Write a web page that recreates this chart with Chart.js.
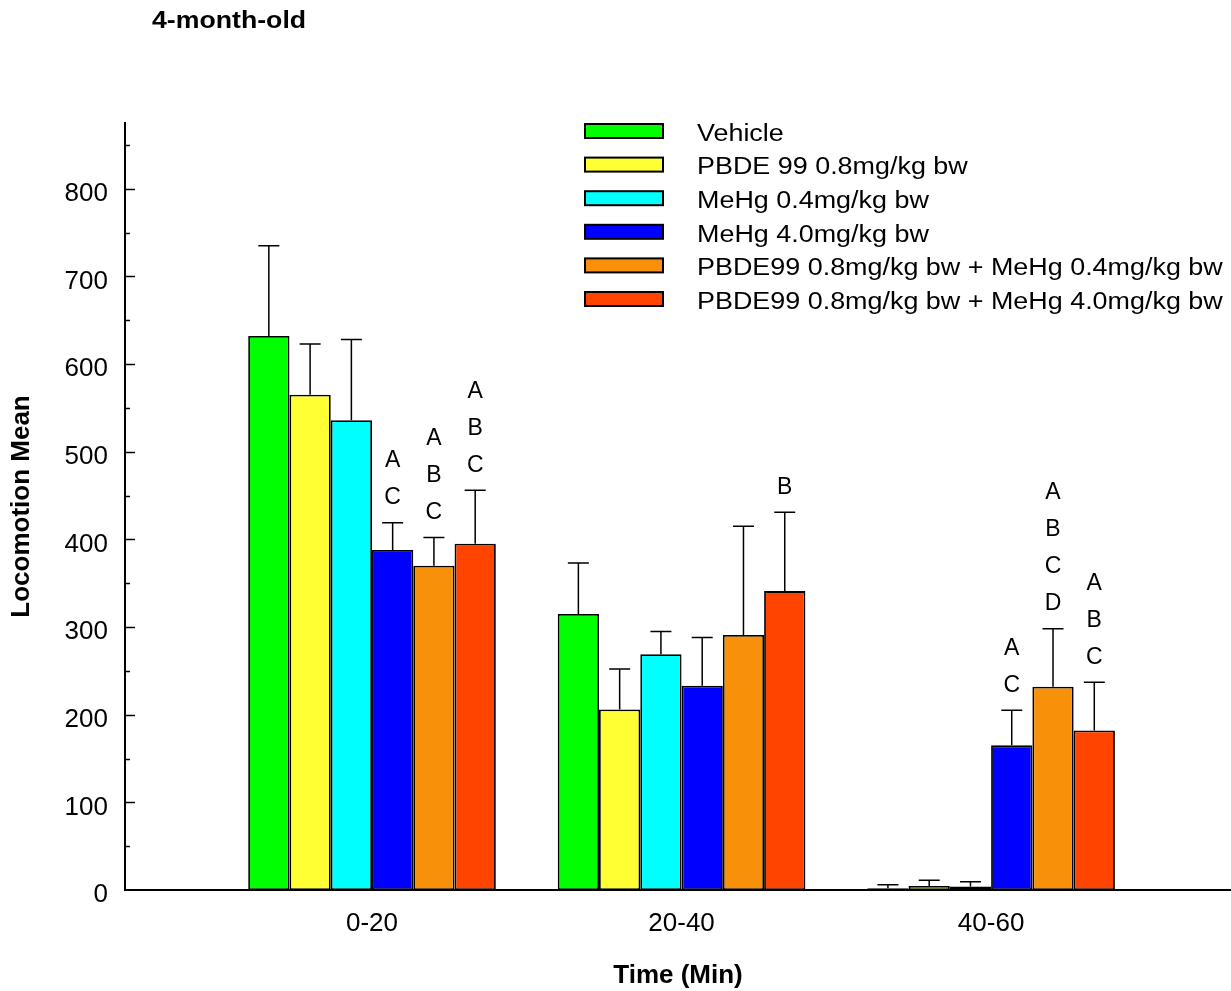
<!DOCTYPE html>
<html>
<head>
<meta charset="utf-8">
<script src="https://cdn.jsdelivr.net/npm/chart.js@4.4.1/dist/chart.umd.min.js"></script>
<style>
  html, body { margin: 0; padding: 0; background: #fff; }
</style>
</head>
<body>
<canvas id="chart" width="1231" height="991"></canvas>
<script>
// time bins and where each group sits on the x axis
const categories = ['0-20', '20-40', '40-60'];
const groupPos = [1, 2, 3];
const yTickValues = [0, 100, 200, 300, 400, 500, 600, 700, 800];

const seriesNames = [
    'Vehicle',
    'PBDE 99 0.8mg/kg bw',
    'MeHg 0.4mg/kg bw',
    'MeHg 4.0mg/kg bw',
    'PBDE99 0.8mg/kg bw + MeHg 0.4mg/kg bw',
    'PBDE99 0.8mg/kg bw + MeHg 4.0mg/kg bw'
];
const seriesColors = ['#00ff00', '#ffff33', '#00ffff', '#0000ff', '#f8900a', '#ff4400'];

// means
const vehicle   = [632, 315, 2];
const pbde99    = [565, 206, 4.5];
const mehgLow   = [536, 269, 4];
const mehgHigh  = [388, 233, 165];
const comboLow  = [370, 291, 232];
const comboHigh = [395, 341, 182];

// error (SEM, upward only)
const vehicleErr   = [103, 58, 4];
const pbde99Err    = [58, 46, 6.5];
const mehgLowErr   = [92, 26, 5.5];
const mehgHighErr  = [31, 55, 40];
const comboLowErr  = [32, 124, 66];
const comboHighErr = [61, 90, 55];

// significance letters above the bars
const vehicleLetters   = ['', '', ''];
const pbde99Letters    = ['', '', ''];
const mehgLowLetters   = ['', '', ''];
const mehgHighLetters  = ['AC', '', 'AC'];
const comboLowLetters  = ['ABC', '', 'ABCD'];
const comboHighLetters = ['ABC', 'B', 'ABC'];

const allValues  = [vehicle, pbde99, mehgLow, mehgHigh, comboLow, comboHigh];
const allErrors  = [vehicleErr, pbde99Err, mehgLowErr, mehgHighErr, comboLowErr, comboHighErr];
const allLetters = [vehicleLetters, pbde99Letters, mehgLowLetters, mehgHighLetters, comboLowLetters, comboHighLetters];

const FONT = '"Liberation Sans", Arial, Helvetica, sans-serif';

const datasets = seriesNames.map((name, i) => ({
    label: name,
    data: groupPos.map((x, j) => ({ x: x, y: allValues[i][j] })),
    backgroundColor: seriesColors[i],
    borderColor: '#000',
    borderWidth: 1.8,
    borderSkipped: false,
    categoryPercentage: 0.8,
    barPercentage: 1.0
}));

// error bars, letters, inner axis ticks, legend and heading
const extras = {
    id: 'extras',
    afterDatasetsDraw(chart) {
        const ctx = chart.ctx;
        const yScale = chart.scales.y;
        const area = chart.chartArea;
        ctx.save();
        ctx.strokeStyle = '#000';
        ctx.lineWidth = 1.5;

        for (let v = 50; v <= 850; v += 50) {
            const py = Math.round(yScale.getPixelForValue(v)) + 0.5;
            const len = v % 100 === 0 ? 10 : 5;
            ctx.beginPath();
            ctx.moveTo(area.left, py);
            ctx.lineTo(area.left + len, py);
            ctx.stroke();
        }

        ctx.font = '23px ' + FONT;
        ctx.fillStyle = '#000';
        ctx.textAlign = 'center';
        ctx.textBaseline = 'middle';
        chart.data.datasets.forEach((ds, i) => {
            const meta = chart.getDatasetMeta(i);
            meta.data.forEach((bar, j) => {
                const top = yScale.getPixelForValue(allValues[i][j] + allErrors[i][j]);
                ctx.beginPath();
                ctx.moveTo(bar.x, bar.y);
                ctx.lineTo(bar.x, top);
                ctx.moveTo(bar.x - 10.5, top);
                ctx.lineTo(bar.x + 10.5, top);
                ctx.stroke();
                const letters = allLetters[i][j];
                for (let k = 0; k < letters.length; k++) {
                    const ly = top - 25 - (letters.length - 1 - k) * 37;
                    ctx.fillText(letters[k], bar.x, ly);
                }
            });
        });
        ctx.restore();
    },
    afterDraw(chart) {
        const ctx = chart.ctx;
        ctx.save();
        // legend inside the plot, top right
        ctx.textAlign = 'left';
        ctx.textBaseline = 'middle';
        ctx.font = '23px ' + FONT;
        seriesNames.forEach((name, i) => {
            const cy = 131 + i * 33.6;
            ctx.fillStyle = seriesColors[i];
            ctx.fillRect(585, cy - 7, 78, 14);
            ctx.strokeStyle = '#000';
            ctx.lineWidth = 2;
            ctx.strokeRect(585, cy - 7, 78, 14);
            ctx.fillStyle = '#000';
            ctx.save();
            ctx.translate(697, cy + 3.5);
            ctx.scale(1.17, 1);
            ctx.fillText(name, 0, 0);
            ctx.restore();
        });
        // heading
        ctx.font = 'bold 23px ' + FONT;
        ctx.translate(152, 21.5);
        ctx.scale(1.16, 1);
        ctx.fillText('4-month-old', 0, 0);
        ctx.restore();
    }
};

new Chart(document.getElementById('chart').getContext('2d'), {
    type: 'bar',
    data: { datasets: datasets },
    plugins: [extras],
    options: {
        responsive: false,
        animation: false,
        layout: { padding: { top: 123, left: 0, right: 0, bottom: 0 } },
        plugins: {
            legend: { display: false },
            tooltip: { enabled: false }
        },
        scales: {
            x: {
                type: 'linear',
                min: 0.202,
                max: 3.775,
                offset: false,
                grid: { display: false, drawTicks: false, offset: false },
                border: { display: true, color: '#000', width: 2 },
                afterBuildTicks: s => { s.ticks = groupPos.map(v => ({ value: v })); },
                ticks: {
                    callback: (v) => categories[groupPos.indexOf(v)],
                    font: { family: FONT, size: 26 },
                    color: '#000',
                    padding: 18,
                    maxRotation: 0,
                    autoSkip: false
                },
                title: {
                    display: true,
                    text: 'Time (Min)',
                    font: { family: FONT, size: 26, weight: 'bold' },
                    color: '#000',
                    padding: { top: 0, bottom: 0 }
                },
                afterFit: s => { s.height = 101; }
            },
            y: {
                min: 0,
                max: 875,
                grid: { display: false, drawTicks: false },
                border: { display: true, color: '#000', width: 2 },
                afterBuildTicks: s => { s.ticks = yTickValues.map(v => ({ value: v })); },
                ticks: {
                    font: { family: FONT, size: 26 },
                    color: '#000',
                    padding: 17,
                    labelOffset: 5
                },
                title: {
                    display: true,
                    text: 'Locomotion Mean',
                    font: { family: FONT, size: 26, weight: 'bold' },
                    color: '#000',
                    padding: { top: 6, bottom: 0 }
                },
                afterFit: s => { s.width = 125; }
            }
        }
    }
});
</script>
</body>
</html>
